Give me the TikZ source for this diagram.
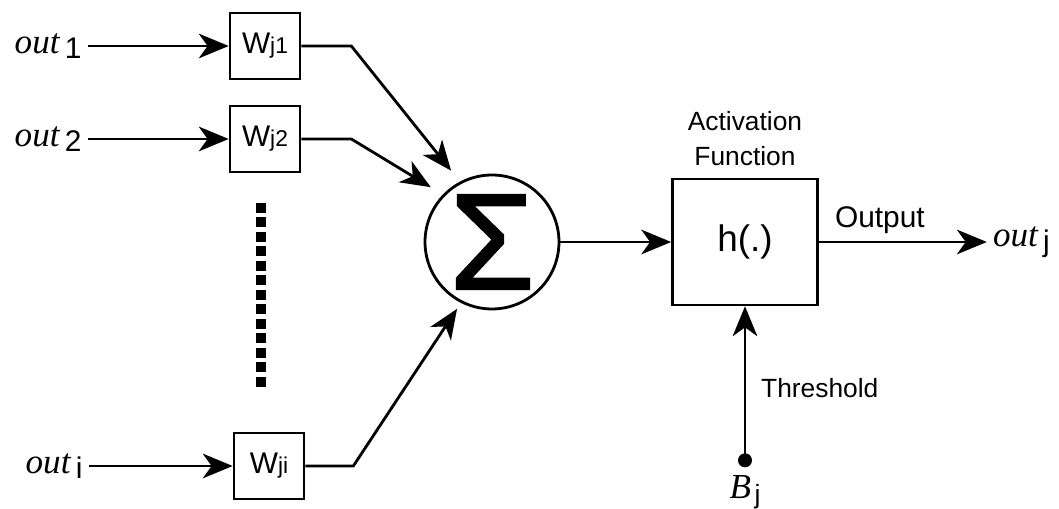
\documentclass[tikz,border=0pt]{standalone}
\usepackage{fontspec}
\setmainfont{Liberation Serif}
\setsansfont{Liberation Sans}
\newfontfamily\sigmafont[FakeBold=1.6]{Liberation Sans}
\usetikzlibrary{positioning, calc, arrows.meta}
\tikzset{wire/.style={line width=1.6pt}}
\tikzset{feed/.style={wire, -{Stealth[length=17pt, width=14pt, inset=5pt]}}}
\tikzset{weight/.style={draw, line width=1.5pt, minimum width=1.4cm, minimum height=1.32cm, inner sep=0pt, font=\sffamily\fontsize{17}{17}\selectfont}}
\tikzset{sumnode/.style={draw, circle, line width=1.6pt, minimum size=2.68cm, inner sep=0pt}}
\tikzset{actbox/.style={draw, line width=1.5pt, minimum width=2.9cm, minimum height=2.52cm, inner sep=0pt, font=\sffamily\fontsize{21}{21}\selectfont}}
\tikzset{lbl/.style={font=\sffamily\fontsize{15}{20}\selectfont}}
\newcommand{\outvar}[1]{{\fontsize{20}{20}\selectfont\itshape out}\hspace{3pt}\raisebox{-3pt}{\sffamily\fontsize{17}{17}\selectfont #1}}
\newcommand{\wsub}[1]{W{\fontsize{13}{13}\selectfont #1}}

\begin{document}
\begin{tikzpicture}[x=0.02cm, y=-0.02cm]
      \useasboundingbox (0,0) rectangle (1059,509);

      % WEIGHTS, SUM AND ACTIVATION

      \node[weight] (w1) at (265,46) {\wsub{j1}};
      \node[weight] (w2) at (265,139) {\wsub{j2}};
      \node[weight] (wi) at (269,466) {\wsub{ji}};
      \node[sumnode] (sum) at (492,242) {\sigmafont\fontsize{78}{78}\selectfont Σ};
      \node[actbox] (act) at (745,242) {h(.)};

      % INPUTS AND OUTPUT

      \node[anchor=east] (in1) at ($(w1.west)-(141,0)$) {\outvar{1}};
      \node[anchor=east] (in2) at ($(w2.west)-(141,0)$) {\outvar{2}};
      \node[anchor=east] (ini) at ($(wi.west)-(144,0)$) {\outvar{i}};
      \node[anchor=west] (outj) at ($(act.east)+(168,0)$) {\outvar{j}};

      % BIAS

      \node[circle, fill, minimum size=0.28cm, inner sep=0pt] (bj) at ($(act.south)+(0,154)$) {};
      \node[below=1pt of bj] (bjlbl) {{\fontsize{20}{20}\selectfont\itshape B}\hspace{2pt}\raisebox{-3pt}{\sffamily\fontsize{15}{15}\selectfont j}};

      % LABELS

      \node[lbl, align=center, above=3pt of act] (actlbl) {Activation\\Function};
      \node[lbl, anchor=south west, font=\sffamily\fontsize{17}{17}\selectfont] (outlbl) at ($(act.east)+(10,-2)$) {Output};
      \node[lbl, anchor=west] (thr) at ($(act.south)+(10,82)$) {Threshold};

      % ARCS

      \draw[feed] (in1.east) -- (w1.west);
      \draw[feed] (in2.east) -- (w2.west);
      \draw[feed] (ini.east) -- (wi.west);

      \coordinate (k1) at ($(w1.east)+(50,0)$);
      \coordinate (k2) at ($(w2.east)+(50,0)$);
      \coordinate (ki) at ($(wi.east)+(48,0)$);
      \draw[feed, shorten >=8pt] (w1.east) -- (k1) -- (sum.118);
      \draw[feed, shorten >=8pt] (w2.east) -- (k2) -- (sum.136);
      \draw[feed, shorten >=4pt] (wi.east) -- (ki) -- (sum.243);

      \draw[feed] (sum.east) -- (act.west);
      \draw[feed] (act.east) -- (outj.west);
      \draw[feed] (bj.center) -- (act.south);

      % ELLIPSIS

      \coordinate (dtop) at (261,203);
      \coordinate (dbot) at (261,391);
      \draw[line width=0.2cm, dash pattern=on 0.2cm off 0.09cm] (dtop) -- (dbot);
\end{tikzpicture}
\end{document}
